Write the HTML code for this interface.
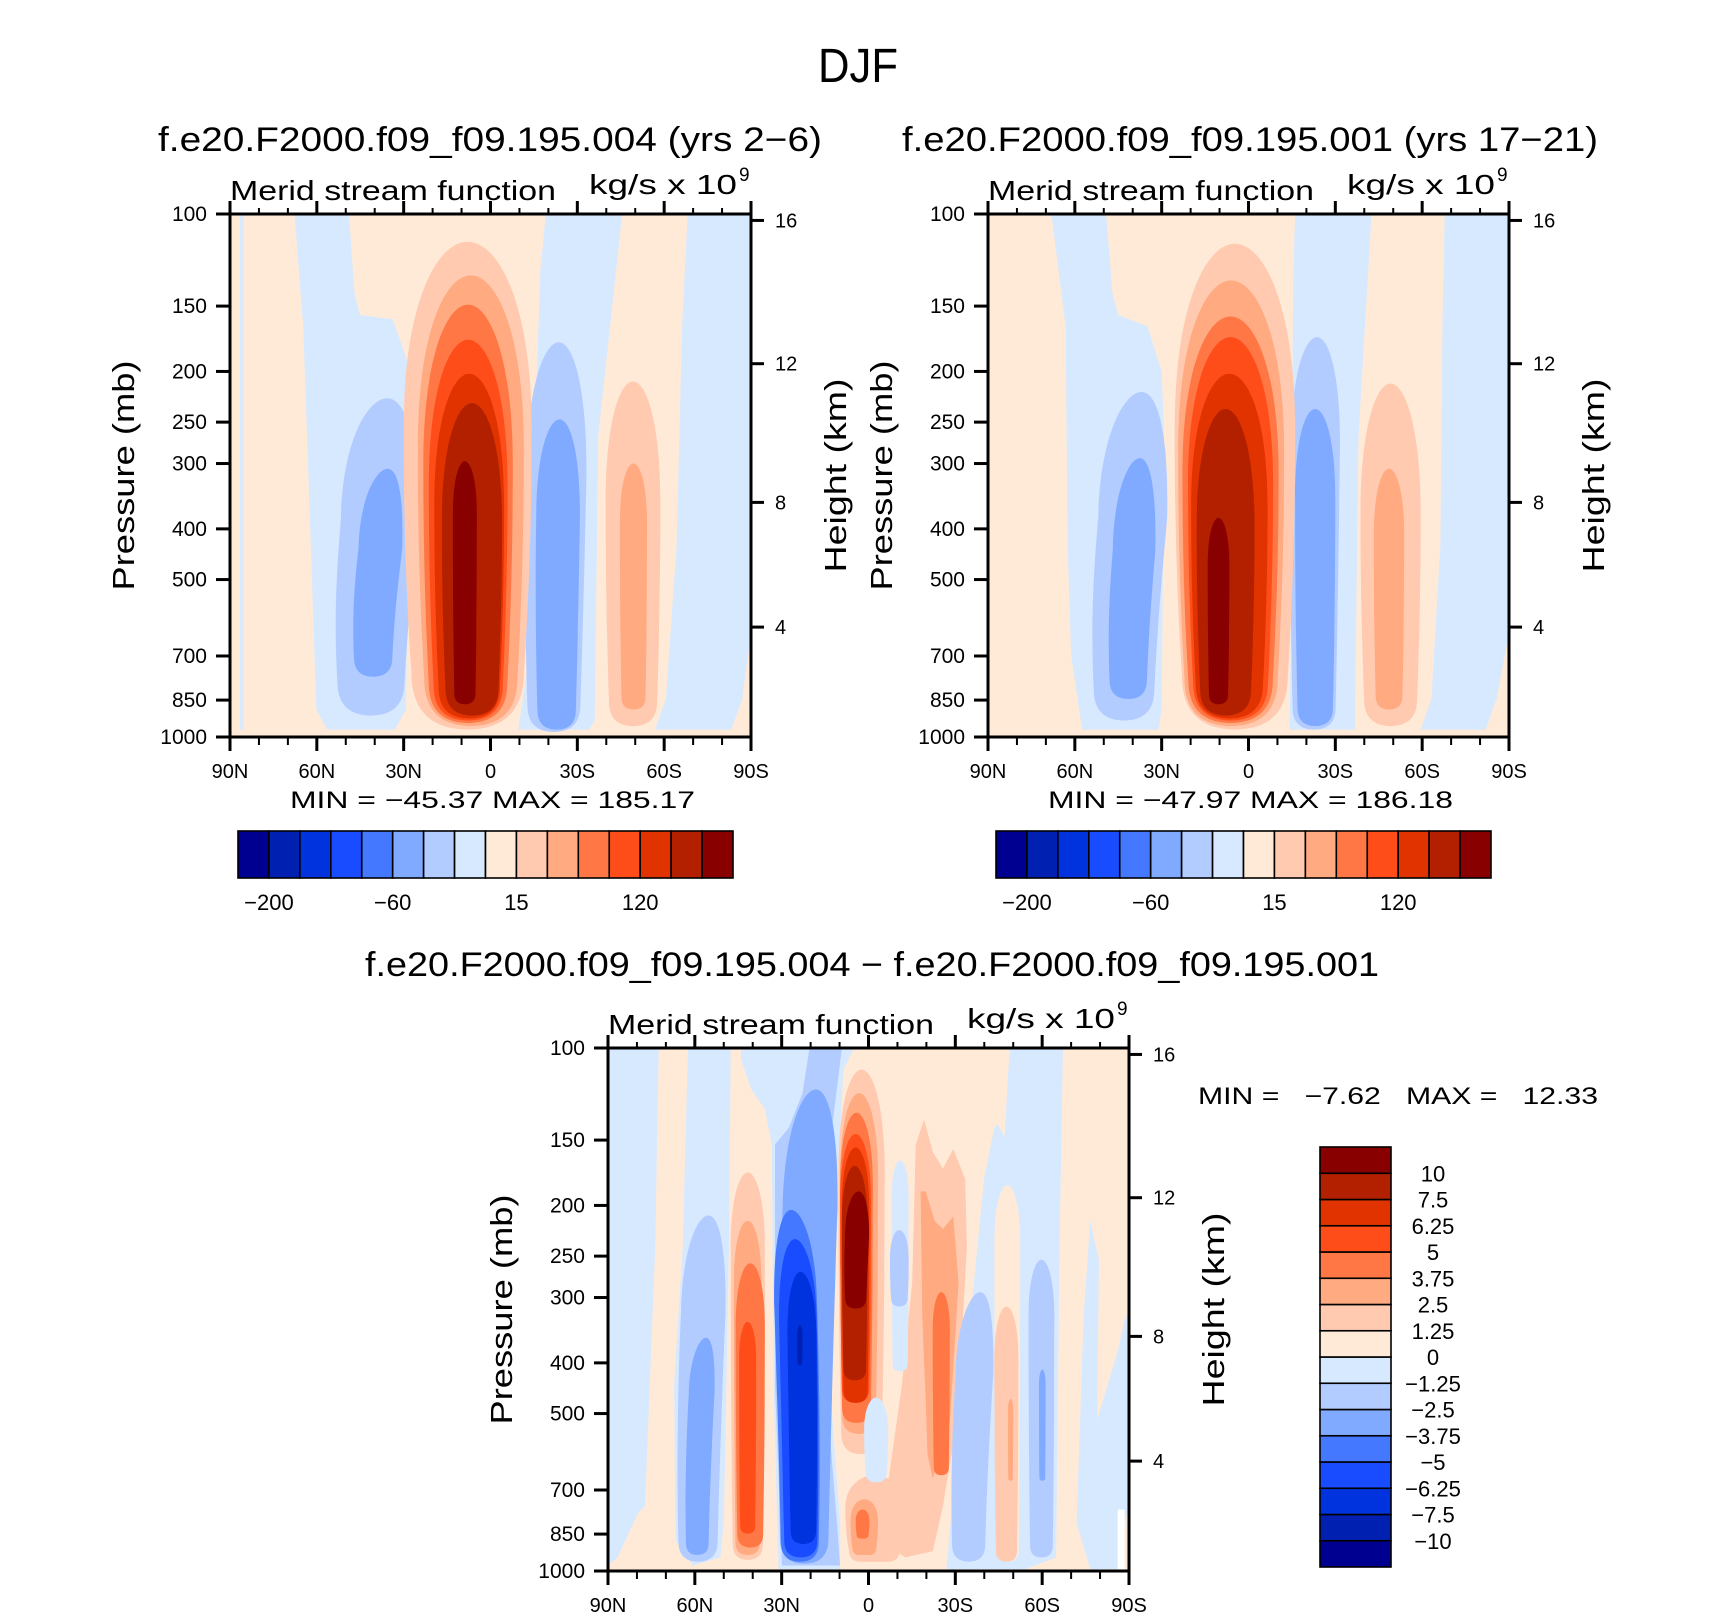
<!DOCTYPE html>
<html><head><meta charset="utf-8"><title>DJF Merid stream function</title>
<style>
html,body{margin:0;padding:0;background:#fff;}
svg{display:block;font-family:"Liberation Sans",sans-serif;}
</style></head>
<body>
<svg id="fig" width="1710" height="1620" viewBox="0 0 1710 1620" xmlns="http://www.w3.org/2000/svg">
<rect x="0" y="0" width="1710" height="1620" fill="#fff"/>
<text x="858" y="82" font-size="48" text-anchor="middle" textLength="80" lengthAdjust="spacingAndGlyphs">DJF</text>
<text x="490" y="151" font-size="34" text-anchor="middle" textLength="664" lengthAdjust="spacingAndGlyphs">f.e20.F2000.f09_f09.195.004 (yrs 2−6)</text>
<text x="1250" y="151" font-size="34" text-anchor="middle" textLength="696" lengthAdjust="spacingAndGlyphs">f.e20.F2000.f09_f09.195.001 (yrs 17−21)</text>
<text x="872" y="976" font-size="34" text-anchor="middle" textLength="1014" lengthAdjust="spacingAndGlyphs">f.e20.F2000.f09_f09.195.004 − f.e20.F2000.f09_f09.195.001</text>
<g id="p1"></g>
<g id="p2"></g>
<g id="p3"></g>
<g id="cbs"></g>
<text x="290" y="808" font-size="24" textLength="405" lengthAdjust="spacingAndGlyphs">MIN = −45.37   MAX = 185.17</text>
<text x="1048" y="808" font-size="24" textLength="405" lengthAdjust="spacingAndGlyphs">MIN = −47.97   MAX = 186.18</text>
<text x="1198" y="1104" font-size="24" textLength="400" lengthAdjust="spacingAndGlyphs" xml:space="preserve">MIN =   −7.62   MAX =   12.33</text>
</svg>
<script>
const NS = "http://www.w3.org/2000/svg";
const levelColors = ["#000090","#0020b2","#0033dd","#1a4cff","#4479ff","#80aaff","#b3ccff","#d7e9ff","#ffead8","#ffcab0","#ffaa80","#ff7744","#ff4d1a","#e03300","#b32000","#880000"];
const pressureTicks = [100,150,200,250,300,400,500,700,850,1000];
const heightTicks = [16,12,8,4];
const latTicks = [90,60,30,0,-30,-60,-90];
const latLabels = ["90N","60N","30N","0","30S","60S","90S"];
const cbLabelsTop = ["−200","−60","15","120"];
const cbLabelIdx = [1,5,9,13];
const cbLabelsDiff = ["10","7.5","6.25","5","3.75","2.5","1.25","0","−1.25","−2.5","−3.75","−5","−6.25","−7.5","−10"];

const polys1 = [
 [7, [[67.7,100],[48.9,100],[47.0,142],[45.1,156],[33.8,159],[28.9,190],[28.1,266],[29.2,886],[33.0,968],[56.4,968],[60.2,886],[62.1,430],[64.7,164]]],
 [7, [[-19.1,100],[-45.5,100],[-37.2,266],[-36.0,930],[-34.1,968],[-9.6,968],[-13.4,697],[-15.3,266],[-17.2,129]]],
 [7, [[-68.1,100],[-90,100],[-90,632],[-87,846],[-83.2,968],[-56.8,968],[-60.6,846],[-64.3,430],[-66.2,164]]],
 [7, [[86.5,100],[85.3,100],[85.3,968],[86.5,968]]]
];
const blobs1 = [
 [6, 54.5, 28.1, 225, 910, -5.6],
 [5, 48.1, 33.0, 307, 767, -5],
 [6, -11.5, -32.3, 176, 978, -1.7],
 [5, -15.3, -30.4, 247, 968, -1],
 [9, -39.8, -58.7, 209, 953, 0],
 [10, -44.7, -54.1, 300, 886, 0],
 [9, 30.0, -14.2, 113, 968, 0],
 [10, 25.1, -11.5, 131, 953, 0],
 [11, 23.2, -7.7, 149, 940, 0],
 [12, 21.3, -5.9, 174, 930, 0],
 [13, 19.4, -4.7, 202, 922, 0],
 [14, 16.8, -4.0, 230, 910, 0],
 [15, 13.0, 4.7, 297, 866, 0]
];
const polys2 = [
 [7, [[68.1,100],[49.2,100],[47,142],[45,156],[34.9,164],[30,200],[29.2,266],[30,886],[31.1,968],[57.5,968],[61.3,697],[62.5,430],[63.2,164]]],
 [7, [[-16.1,100],[-42.5,100],[-38,266],[-36.8,930],[-36.8,968],[-14.2,968],[-14.5,697],[-15,266],[-15.5,129]]],
 [7, [[-67.8,100],[-90,100],[-90,632],[-85.7,846],[-81.9,968],[-59.5,968],[-63.2,846],[-66.3,430],[-67.0,164]]]
];
const blobs2 = [
 [6, 54.9, 31.1, 219, 930, -6],
 [5, 48.9, 34.2, 293, 846, -4],
 [6, -14.2, -31.1, 172, 968, -1],
 [5, -16.1, -30.0, 236, 953, 0],
 [9, -38.7, -59.5, 211, 953, 0],
 [10, -43.3, -53.8, 307, 886, 0],
 [9, 25.5, -16.1, 114, 968, 0],
 [10, 24.3, -12.3, 134, 953, 0],
 [11, 22.8, -10.4, 157, 940, 0],
 [12, 20.9, -8.5, 172, 930, 0],
 [13, 19.8, -6.6, 202, 922, 0],
 [14, 17.9, -2.1, 236, 910, 0],
 [15, 14.1, 6.6, 381, 866, 0]
];
const polys3 = [
 [7, [[90,100],[72.5,100],[73.7,241],[77.2,751],[79.6,775],[86.7,942],[90,976]]],
 [7, [[62.4,100],[47.6,100],[48.2,241],[50,810],[51.2,942],[60.7,976],[66.6,874],[67.2,442],[64.2,241]]],
 [7, [[44.1,100],[5.0,100],[8.6,110],[10.9,178],[13.3,442],[9.8,810],[9.8,992],[31.1,992],[32.8,442],[33.4,153],[35.8,131],[40.5,120],[44.1,105]]],
 [7, [[-48.8,100],[-67.2,100],[-66,241],[-64.8,942],[-54.1,992],[-26.9,992],[-30.5,598],[-36.4,281],[-39.9,178],[-43.5,142],[-44.7,140],[-47,148]]],
 [7, [[-76.6,214],[-79.6,254],[-79,514],[-86.1,380],[-88.5,330],[-90,320],[-90,729],[-86.1,992],[-76.6,992],[-71.9,810],[-74.3,326]]],
 [6, [[20.4,100],[9.2,100],[13.3,153],[15.7,380],[10.9,810],[9.8,976],[29.9,976],[32.3,442],[32.3,153],[27.5,142],[22.8,122]]],
 [9, [[-16.3,153],[-19.2,137],[-22.2,158],[-25.7,170],[-29.3,156],[-33.4,178],[-34.0,241],[-30.5,521],[-25.7,751],[-22.2,917],[-12.7,942],[-3.3,874],[-6.8,677],[-11.5,442],[-15.1,281]]],
 [10, [[-18.0,188],[-19.8,188],[-22.8,214],[-25.7,222],[-29.3,210],[-31.1,281],[-28.1,521],[-22.2,666],[-20.4,598],[-19.8,477],[-18.6,326]]],
 [-1, [[-86.1,763],[-88.5,763],[-88.5,992],[-86.1,992]]]
];
const blobs3 = [
 [6, 66.6, 51.2, 209, 960, -3.6],
 [5, 63.6, 54.7, 358, 932, -3],
 [5, 31.7, 12.7, 120, 968, -4],
 [4, 31.1, 16.3, 204, 960, 3],
 [3, 29.9, 16.9, 232, 942, 2],
 [2, 27.5, 17.5, 268, 888, 1],
 [1, 24.6, 22.8, 339, 404, 0],
 [9, 8.0, -12.0, 656, 960, 0],
 [9, 10.4, -5.6, 110, 598, 0],
 [10, 9.8, -3.3, 122, 547, 0],
 [11, 9.8, -1.5, 133, 521, 0],
 [12, 9.8, -0.9, 146, 477, 0],
 [13, 9.2, -0.3, 155, 477, 0],
 [14, 9.2, 0.3, 168, 432, 0],
 [15, 8.6, 0.3, 188, 315, -1],
 [10, 6.2, -3.3, 729, 932, 0],
 [11, 4.4, -0.3, 763, 867, 0],
 [9, 47.6, 35.8, 173, 952, 0],
 [10, 46.5, 37.0, 214, 932, 0],
 [11, 45.9, 35.8, 258, 902, 0],
 [12, 44.7, 38.8, 334, 848, 0],
 [7, -8.0, -13.9, 164, 415, 0],
 [6, -7.4, -13.9, 223, 312, 0],
 [7, 1.5, -6.8, 466, 677, 0],
 [11, -22.2, -28.1, 293, 656, 0],
 [8, -43.5, -52.4, 183, 960, 0],
 [9, -43.5, -51.8, 312, 960, 0],
 [10, -48.2, -50.0, 469, 672, 0],
 [6, -28.1, -41.1, 293, 960, -4],
 [6, -55.3, -64.2, 254, 942, 0],
 [5, -58.9, -61.2, 412, 672, 0]
];

function el(tag, attrs, parent){
  const e = document.createElementNS(NS, tag);
  for (const k in attrs) e.setAttribute(k, attrs[k]);
  parent.appendChild(e);
  return e;
}
function stdP(z){
  return z <= 11 ? 1013.25*Math.pow(1 - z/44.33, 5.256) : 226.32*Math.exp(-(z-11)/6.3416);
}
function colorOf(l){ return l < 0 ? "#ffffff" : levelColors[l]; }

function drawPlot(id, x0, y0, W, H, polys, blobs){
  const g = document.getElementById(id);
  const xs = lat => x0 + (90 - lat)/180*W;
  const ys = p => y0 + (Math.log10(p) - 2)*H;
  const clip = el("clipPath", {id: id+"-clip"}, g);
  el("rect", {x:x0, y:y0, width:W, height:H}, clip);
  const field = el("g", {"clip-path":"url(#"+id+"-clip)"}, g);
  
  
  const bg = el("rect", {x:x0, y:y0, width:W, height:H, fill:levelColors[8]}, field);
  
  
  polys.forEach(pl => {
    const d = pl[1].map((pt,i) => (i?"L":"M") + xs(pt[0]).toFixed(1) + "," + ys(pt[1]).toFixed(1)).join(" ") + "Z";
    const e = el("path", {d:d, fill:colorOf(pl[0])}, field);
    
    
  });
  blobs.forEach(b => {
    const xl = xs(b[1]), xr = xs(b[2]), yt = ys(b[3]), yb = ys(b[4]);
    const w = xr - xl, h = yb - yt;
    const dx = xs(b[1] + b[5]) - xl;
    const xc = (xl + xr)/2 + dx;
    const a = Math.min(0.38*h, 2.2*w);
    const r = Math.min(w*0.45, 0.14*h);
    const ins = w*0.06;
    const d = "M"+(xl+ins)+","+(yb-r)+
      " C"+xl+","+(yb-h*0.35)+" "+(xl+dx*0.4)+","+(yt+a*1.2)+" "+(xl+dx*0.5)+","+(yt+a)+
      " C"+(xl+dx*0.6)+","+(yt+a*0.35)+" "+(xc-w*0.25)+","+yt+" "+xc+","+yt+
      " C"+(xc+w*0.25)+","+yt+" "+(xr+dx*0.6)+","+(yt+a*0.35)+" "+(xr+dx*0.5)+","+(yt+a)+
      " C"+(xr+dx*0.4)+","+(yt+a*1.2)+" "+xr+","+(yb-h*0.35)+" "+(xr-ins)+","+(yb-r)+
      " Q"+(xr-ins)+","+yb+" "+(xr-ins-r)+","+yb+" L"+(xl+ins+r)+","+yb+" Q"+(xl+ins)+","+yb+" "+(xl+ins)+","+(yb-r)+"Z";
    const e = el("path", {d:d, fill:colorOf(b[0])}, field);
    
    
  });
  const fr = el("rect", {x:x0, y:y0, width:W, height:H, fill:"none", stroke:"#000", "stroke-width":3}, g);
  
  
  for (let lat = 90; lat >= -90; lat -= 10){
    const major = lat % 30 === 0;
    const x = xs(lat);
    el("line", {x1:x, y1:y0+H, x2:x, y2:y0+H+(major?14:8), stroke:"#000", "stroke-width":major?3:2}, g);
    el("line", {x1:x, y1:y0, x2:x, y2:y0-(major?13:6), stroke:"#000", "stroke-width":major?3:2}, g);
  }
  latTicks.forEach((lat,i) => {
    const t = el("text", {x:xs(lat), y:y0+H+41, "font-size":20, "text-anchor":"middle"}, g);
    t.textContent = latLabels[i];
    
    
  });
  pressureTicks.forEach(p => {
    const y = ys(p);
    el("line", {x1:x0-14, y1:y, x2:x0, y2:y, stroke:"#000", "stroke-width":3}, g);
    const t = el("text", {x:x0-23, y:y+7, "font-size":21, "text-anchor":"end"}, g);
    t.textContent = p;
    
    
  });
  heightTicks.forEach(z => {
    const y = ys(stdP(z));
    el("line", {x1:x0+W, y1:y, x2:x0+W+13, y2:y, stroke:"#000", "stroke-width":3}, g);
    const t = el("text", {x:x0+W+24, y:y+7, "font-size":20}, g);
    t.textContent = z;
    
    
  });
  const yt = el("text", {x:0, y:0, "font-size":31, "text-anchor":"middle", transform:"translate("+(x0-96)+","+(y0+H/2)+") rotate(-90)", textLength:230, lengthAdjust:"spacingAndGlyphs"}, g);
  yt.textContent = "Pressure (mb)";
  
  
  const ht = el("text", {x:0, y:0, "font-size":31, "text-anchor":"middle", transform:"translate("+(x0+W+95)+","+(y0+H/2)+") rotate(-90)", textLength:194, lengthAdjust:"spacingAndGlyphs"}, g);
  ht.textContent = "Height (km)";
  
  
  const mt = el("text", {x:x0, y:y0-14, "font-size":28, textLength:326, lengthAdjust:"spacingAndGlyphs"}, g);
  mt.textContent = "Merid stream function";
  
  
  const ut = el("text", {x:x0+W-162, y:y0-20, "font-size":28, textLength:148, lengthAdjust:"spacingAndGlyphs"}, g);
  ut.textContent = "kg/s x 10";
  
  
  const sup = el("text", {x:x0+W-12, y:y0-33, "font-size":19}, g);
  sup.textContent = "9";
  
  
}
drawPlot("p1", 230, 214, 521, 523, polys1, blobs1);
drawPlot("p2", 988, 214, 521, 523, polys2, blobs2);
drawPlot("p3", 608, 1048, 521, 523, polys3, blobs3);

function hColorbar(x0, y0, W, H){
  const g = document.getElementById("cbs");
  const bw = W/levelColors.length;
  levelColors.forEach((c,i) => {
    const r = el("rect", {x:x0+i*bw, y:y0, width:bw, height:H, fill:c, stroke:"#000", "stroke-width":1.6}, g);
    
    
  });
  cbLabelIdx.forEach((k,i) => {
    const t = el("text", {x:x0+k*bw, y:y0+H+32, "font-size":22, "text-anchor":"middle"}, g);
    t.textContent = cbLabelsTop[i];
    
    
  });
}
hColorbar(238, 831, 495, 47);
hColorbar(996, 831, 495, 47);

(function vColorbar(x0, y0, W, H){
  const g = document.getElementById("cbs");
  const n = levelColors.length, bh = H/n;
  levelColors.forEach((c,i) => {
    const r = el("rect", {x:x0, y:y0+(n-1-i)*bh, width:W, height:bh, fill:c, stroke:"#000", "stroke-width":1.6}, g);
    
    
  });
  cbLabelsDiff.forEach((s,i) => {
    const t = el("text", {x:x0+113, y:y0+(i+1)*bh+8, "font-size":22, "text-anchor":"middle"}, g);
    t.textContent = s;
    
    
  });
})(1320, 1147, 71, 420);
</script>
</body></html>
